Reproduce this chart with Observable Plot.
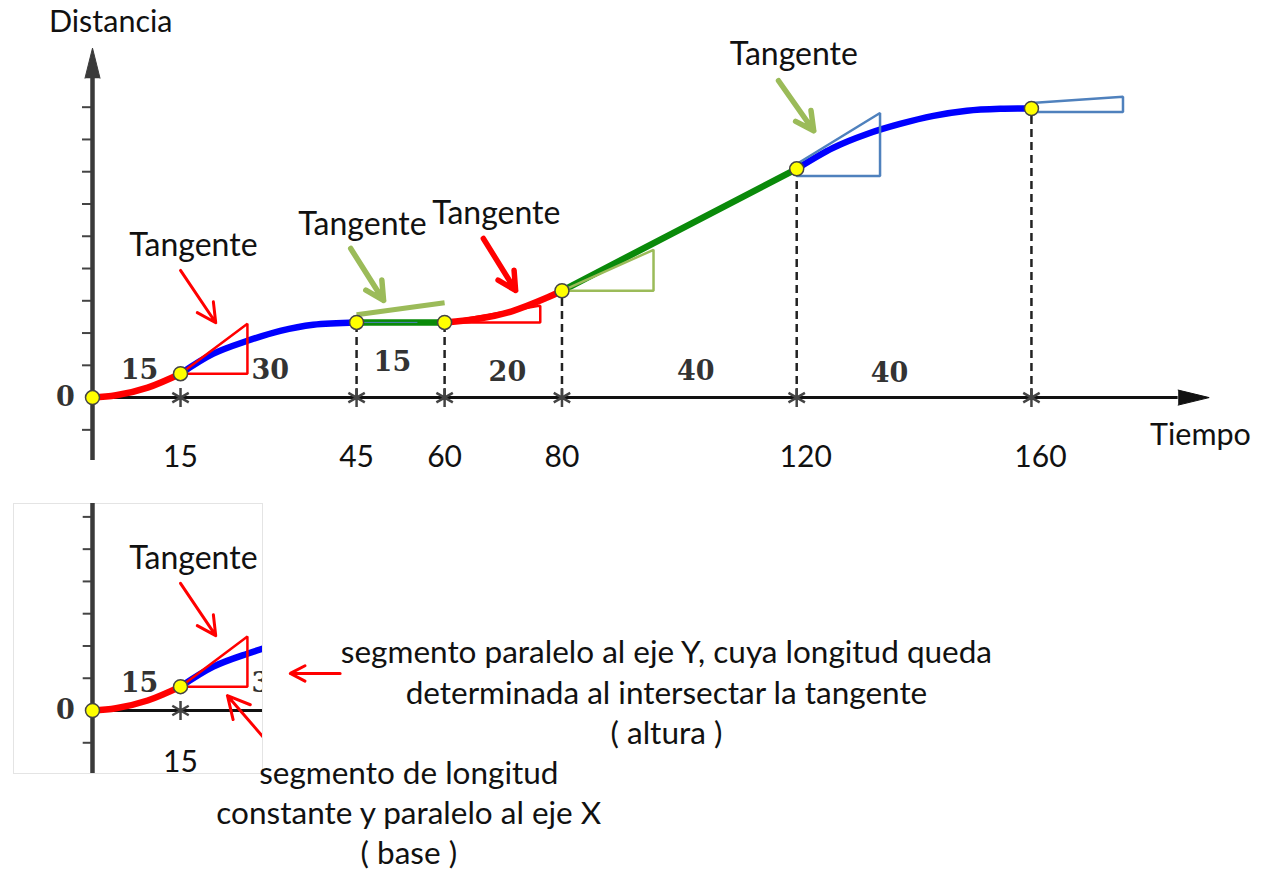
<!DOCTYPE html>
<html><head><meta charset="utf-8">
<script src="https://cdn.jsdelivr.net/npm/d3@7"></script>
<script src="https://cdn.jsdelivr.net/npm/@observablehq/plot@0.6"></script>
<style>
body{margin:0;background:#fff;}
#wrap{position:relative;width:1267px;height:873px;overflow:hidden;background:#fff}
#main{position:absolute;left:0;top:0}
#inset{position:absolute;left:13px;top:503px}
</style></head><body><div id="wrap"><div id="main"></div><div id="inset"></div></div>
<script>
// ---------------- data ----------------
// curve segments (time, distance)
const segNames  = ["s1","s2","s3","s4","s5","s6"];
const segColors = ["#ff0000","#0000ff","#0a8a0a","#ff0000","#0a8a0a","#0000ff"];
const segTimes  = [[0,4,9.4,15],[15,20.6,26.4,32,37.6,45],[45,60],[60,66,71.7,77.5,80],[80,120],[120,126.2,132,137.6,143.3,149,154.7,160]];
const segDist   = [[0,0.7,3.1,7.4],[7.4,13.6,17.6,20.7,22.6,23.3],[23.3,23.3],[23.3,24.5,26.9,31,33.1],[33.1,70.9],[70.9,77.4,81.7,84.8,87.3,88.9,89.5,89.6]];

// key points
const keyTimes = [0,15,45,60,80,120,160];
const keyDist  = [0,7.4,23.3,23.3,33.1,70.9,89.6];
const tickTimes   = [15,45,60,80,120,160];
const dashedTimes = [45,60,80,120,160];
const yTicks = [-10,10,20,30,40,50,60,70,80,90];
const insetYTicks = [-10,10,20,30,40,50,60];

// interval labels
const intervalLabels = ["15","30","15","20","40","40"];
const intervalT = [8,30.3,51.1,70.7,102.8,135.8];
const intervalD = [8.4,8.4,10.8,7.9,8.1,7.6];

// tangent triangles (vertices)
const triNames  = ["A","C","D","E","F"];
const triColors = ["#ff0000","#ff0000","#9bbb59","#4f81bd","#4f81bd"];
const triT = [[15,26.4,26.4,15],[60,76.3,76.3,60],[80,95.6,95.6,80],[120,134.2,134.2,120,120],[160,175.6,175.6,160,160]];
const triD = [[7.4,7.4,22.9,7.4],[23.3,23.3,28.5,23.3],[33.1,33.1,45.8,33.1],[72.4,88.2,68.7,68.7,72.4],[91.3,93.2,88.5,88.5,91.3]];

// flat tangent at t = 45
const flatTanT = [45,60];
const flatTanD = [25.7,29.4];
const flatBaseT = [45,55.3];
const flatBaseD = [23.3,23.3];

// "Tangente" labels and arrows
const tangT = [17.2,46,68.8,119.5];
const tangD = [47.1,53.6,57,106.3];
const arrT1 = [15,44,66.6,116.9];
const arrD1 = [39.4,46.2,49.3,98.2];
const arrT2 = [21,49.6,72.1,122.9];
const arrD2 = [23.2,30.1,33.2,82.7];
const arrColors = ["#ff0000","#9bbb59","#ff0000","#9bbb59"];

// axes extents
const xAxisSpan = [0,185];
const yAxisSpan = [-19.5,99];
const insetYAxisSpan = [-19.6,64.2];
const insetMaxT = 29;

// annotation texts (inset)
const notaAltura = ["segmento paralelo al eje Y, cuya longitud queda","determinada al intersectar la tangente","( altura )"];
const notaBase = ["segmento de longitud","constante y paralelo al eje X","( base )"];

// pointer arrows to the triangle sides (inset)
const ptrT1 = [42.2,31.2];
const ptrD1 = [11.5,-12.7];
const ptrT2 = [33.7,23];
const ptrD2 = [11.5,4.6];

// ---------------- tables ----------------
const curveRows = segNames.flatMap((s,i)=>segTimes[i].map((t,j)=>({seg:s,color:segColors[i],t,d:segDist[i][j]})));
const triRows = triNames.flatMap((s,i)=>triT[i].map((t,j)=>({tri:s,color:triColors[i],t,d:triD[i][j]})));
const keyPts = keyTimes.map((t,i)=>({t,d:keyDist[i]}));
const dashedPts = keyPts.filter(p=>dashedTimes.includes(p.t));
const intervals = intervalLabels.map((l,i)=>({l,t:intervalT[i],d:intervalD[i]}));
const tangs = tangT.map((t,i)=>({t,d:tangD[i]}));
const arrows = arrT1.map((t,i)=>({t1:t,d1:arrD1[i],t2:arrT2[i],d2:arrD2[i],color:arrColors[i],i}));
const flatTan = flatTanT.map((t,i)=>({t,d:flatTanD[i]}));
const flatBase = flatBaseT.map((t,i)=>({t,d:flatBaseD[i]}));
const ptrs = ptrT1.map((t,i)=>({t1:t,d1:ptrD1[i],t2:ptrT2[i],d2:ptrD2[i],i}));

const SANS = "Lato, 'Open Sans', sans-serif";
const SERIF = "'DejaVu Serif', serif";

// ---------------- main chart ----------------
const main = Plot.plot({
  width: 1267, height: 480,
  marginLeft: 92, marginRight: 60, marginTop: 47, marginBottom: 20,
  x: {domain: [0,190], axis: null},
  y: {domain: [-19.5,108.5]},
  color: {type: "identity"},
  style: {background: "white", overflow: "visible"},
  marks: [
    Plot.ruleX(dashedPts, {x:"t", y1:0, y2:"d", stroke:"#222", strokeWidth:2.5, strokeDasharray:"8,5"}),
    Plot.axisY({ticks: yTicks, anchor:"left", tickSize:10, tickFormat:()=>"", stroke:"#444", strokeWidth:2}),
    Plot.ruleX([xAxisSpan[0]], {x: d=>d, y1: yAxisSpan[0], y2: yAxisSpan[1], stroke:"#3a3a3a", strokeWidth:4.5}),
    Plot.vector([yAxisSpan[1]], {x: xAxisSpan[0], y: d=>d, length:30, r:7.5, shape:"spike", anchor:"start", fill:"#3a3a3a", stroke:"#3a3a3a", strokeWidth:1}),
    Plot.ruleY([0], {x1: xAxisSpan[0], x2: xAxisSpan[1], stroke:"#111", strokeWidth:3}),
    Plot.vector([xAxisSpan[1]], {x: d=>d, y: 0, rotate:90, length:31, r:7.5, shape:"spike", anchor:"start", fill:"#111", stroke:"#111", strokeWidth:1}),
    Plot.dot(tickTimes, {x: d=>d, y: 0, symbol:"asterisk", r:9, stroke:"#444", strokeWidth:2.5}),
    Plot.line(curveRows, {x:"t", y:"d", z:"seg", stroke:"color", strokeWidth:6.5, curve:"catmull-rom"}),
    Plot.line(flatBase, {x:"t", y:"d", stroke:"#4f81bd", strokeWidth:1}),
    Plot.line(flatTan, {x:"t", y:"d", stroke:"#9bbb59", strokeWidth:5, strokeLinecap:"butt"}),
    Plot.line(triRows, {x:"t", y:"d", z:"tri", stroke:"color", strokeWidth:2.5, strokeLinejoin:"miter"}),
    Plot.dot(keyPts, {x:"t", y:"d", r:7, fill:"#ffff00", stroke:"#444", strokeWidth:1.5}),
    Plot.text(intervals, {x:"t", y:"d", text:"l", fontFamily:SERIF, fontWeight:"bold", fontSize:27, fill:"#333"}),
    Plot.text(["0"], {x:-4.6, y:0, text:d=>d, fontFamily:SERIF, fontWeight:"bold", fontSize:27, fill:"#333"}),
    Plot.text(tickTimes.filter(t=>t<100), {x:d=>d, y:-18.6, text:d=>String(d), fontFamily:SANS, fontSize:30, fill:"#111"}),
    Plot.text(tickTimes.filter(t=>t>=100), {x:d=>d, y:-18.6, dx:9, text:d=>String(d), fontFamily:SANS, fontSize:30, fill:"#111"}),
    Plot.text(tangs, {x:"t", y:"d", text:()=>"Tangente", fontFamily:SANS, fontSize:32, fill:"#111"}),
    Plot.arrow(arrows.filter(a=>a.i===0), {x1:"t1", y1:"d1", x2:"t2", y2:"d2", stroke:"color", strokeWidth:3, headLength:14, headAngle:55}),
    Plot.arrow(arrows.filter(a=>a.i>0), {x1:"t1", y1:"d1", x2:"t2", y2:"d2", stroke:"color", strokeWidth:5.5, headLength:18, headAngle:55}),
    Plot.text(["Distancia"], {x:3.1, y:116.2, text:d=>d, fontFamily:SANS, fontSize:30.5, fill:"#111"}),
    Plot.text(["Tiempo"], {x:188.8, y:-11.8, text:d=>d, fontFamily:SANS, fontSize:30.5, fill:"#111"})
  ]
});
document.getElementById("main").appendChild(main);

// ---------------- inset (zoomed copy of the start) ----------------
const inInset = t => t < insetMaxT + 3;
const inset = Plot.plot({
  width: 1254, height: 370,
  marginLeft: 0, marginRight: 1005, marginTop: 0, marginBottom: 100,
  x: {domain: [-13.46,28.97], axis: null},
  y: {domain: [-19.52,64.15]},
  color: {type: "identity"},
  style: {background: "transparent", overflow: "visible"},
  marks: [
    Plot.frame({fill:"white", stroke:"#e4e4e4"}),
    Plot.axisY({ticks: insetYTicks, anchor:"left", tickSize:10, tickFormat:()=>"", stroke:"#444", strokeWidth:2, dx: 79.7}),
    Plot.ruleX([xAxisSpan[0]], {x: d=>d, y1: insetYAxisSpan[0], y2: insetYAxisSpan[1], stroke:"#3a3a3a", strokeWidth:4.5, clip:true}),
    Plot.ruleY([0], {x1: xAxisSpan[0], x2: insetMaxT + 2, stroke:"#111", strokeWidth:3, clip:true}),
    Plot.dot(tickTimes.filter(inInset), {x: d=>d, y: 0, symbol:"asterisk", r:9, stroke:"#444", strokeWidth:2.5, clip:true}),
    Plot.line(curveRows.filter(r=>r.t<=45), {x:"t", y:"d", z:"seg", stroke:"color", strokeWidth:6.5, curve:"catmull-rom", clip:true}),
    Plot.line(triRows.filter(r=>r.tri==="A"), {x:"t", y:"d", z:"tri", stroke:"color", strokeWidth:2.5, strokeLinejoin:"miter", clip:true}),
    Plot.dot(keyPts.filter(p=>inInset(p.t)), {x:"t", y:"d", r:7, fill:"#ffff00", stroke:"#444", strokeWidth:1.5, clip:true}),
    Plot.text(intervals.filter(p=>inInset(p.t)), {x:"t", y:"d", text:"l", fontFamily:SERIF, fontWeight:"bold", fontSize:27, fill:"#333", clip:true}),
    Plot.text(["0"], {x:-4.6, y:0, text:d=>d, fontFamily:SERIF, fontWeight:"bold", fontSize:27, fill:"#333", clip:true}),
    Plot.text(tickTimes.filter(t=>t<insetMaxT), {x:d=>d, y:-16.1, text:d=>String(d), fontFamily:SANS, fontSize:30, fill:"#111", clip:true}),
    Plot.text(tangs.filter(p=>p.t<insetMaxT), {x:"t", y:"d", text:()=>"Tangente", fontFamily:SANS, fontSize:32, fill:"#111", clip:true}),
    Plot.arrow(arrows.filter(a=>a.i===0), {x1:"t1", y1:"d1", x2:"t2", y2:"d2", stroke:"color", strokeWidth:3, headLength:14, headAngle:55, clip:true}),
    Plot.arrow(ptrs.filter(p=>p.i===0), {x1:"t1", y1:"d1", x2:"t2", y2:"d2", stroke:"#ff0000", strokeWidth:3, headLength:14, headAngle:55}),
    Plot.arrow(ptrs.filter(p=>p.i===1), {x1:"t1", y1:"d1", x2:"t2", y2:"d2", stroke:"#ff0000", strokeWidth:3, headLength:14, headAngle:55, clip:true}),
    Plot.text([notaAltura.join("\n")], {x:97.8, y:6.2, text:d=>d, fontFamily:SANS, fontSize:31.5, lineHeight:1.29, fill:"#111"}),
    Plot.text([notaBase.join("\n")], {x:53.9, y:-31.3, text:d=>d, fontFamily:SANS, fontSize:31.5, lineHeight:1.27, fill:"#111"})
  ]
});
document.getElementById("inset").appendChild(inset);
</script></body></html>
